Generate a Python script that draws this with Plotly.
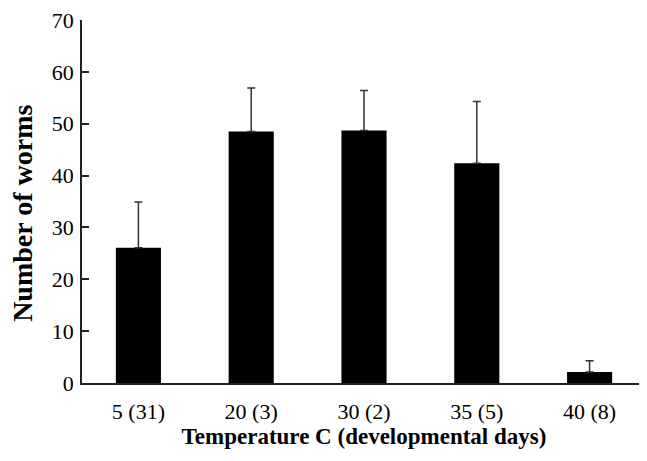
import plotly.graph_objects as go

categories = ["5 (31)", "20 (3)", "30 (2)", "35 (5)", "40 (8)"]
means = [26.1, 48.5, 48.7, 42.4, 2.1]
errors = [8.8, 8.4, 7.7, 11.9, 2.2]
y_ticks = [0, 10, 20, 30, 40, 50, 60, 70]

font_family = "Liberation Serif, Times New Roman, serif"

fig = go.Figure(
    go.Bar(
        x=categories,
        y=means,
        width=0.4,
        marker=dict(color="black", line=dict(width=0)),
        error_y=dict(type="data", array=errors, symmetric=False,
                     arrayminus=[0] * len(errors),
                     color="#333333", thickness=1.5, width=4),
    )
)

fig.update_layout(
    width=639, height=453,
    margin=dict(l=74, r=1, t=12, b=78),
    plot_bgcolor="white", paper_bgcolor="white",
    showlegend=False,
    font=dict(family=font_family, color="black", size=21),
)
fig.update_xaxes(
    range=[-0.5, 4.5],
    showline=True, linecolor="#222222", linewidth=1.5,
    ticks="", showgrid=False,
    tickfont=dict(size=22),
    ticklabelstandoff=8,
    title=dict(text="<b>Temperature C (developmental days)</b>", font=dict(size=23), standoff=2),
)
fig.update_yaxes(
    range=[0, 70], tickvals=y_ticks,
    showline=True, linecolor="#222222", linewidth=1.5,
    ticks="inside", ticklen=7, tickwidth=1.5, tickcolor="#222222",
    showgrid=False, zeroline=False,
    tickfont=dict(size=22),
    ticklabelstandoff=2,
    ticklabeloverflow="allow",
)
fig.add_annotation(
    text="<b>Number of worms</b>", textangle=-90,
    xref="paper", yref="paper", x=-0.1046, y=0.466,
    xanchor="center", yanchor="middle", showarrow=False,
    font=dict(size=28, family=font_family, color="black"),
)

fig.write_html("out.html")
